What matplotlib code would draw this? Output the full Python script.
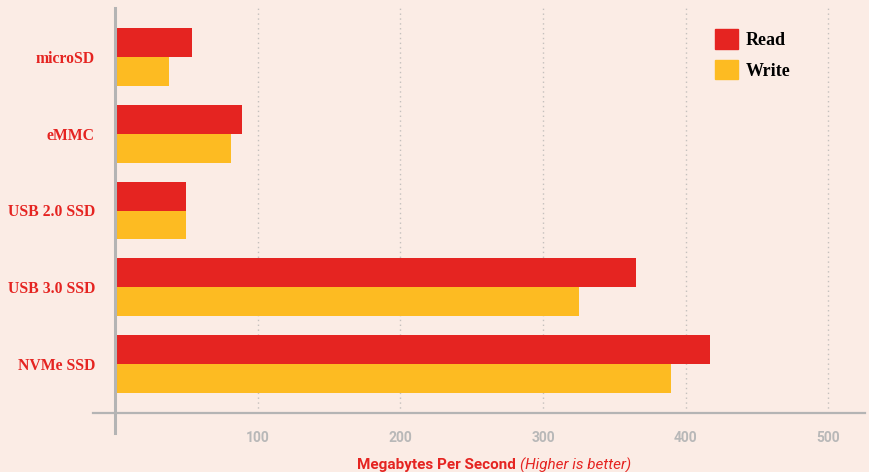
import numpy as np
import matplotlib.pyplot as plt
from matplotlib.patches import Patch

# data
devices = ['microSD', 'eMMC', 'USB 2.0 SSD', 'USB 3.0 SSD', 'NVMe SSD']
read_speed = [54, 89, 50, 365, 417]
write_speed = [38, 81, 50, 325, 390]
xticks = [100, 200, 300, 400, 500]

bg = '#fbece5'
red = '#e52421'
yellow = '#fdbb22'
grey = '#b4b4b4'

fig = plt.figure(figsize=(8.7, 4.72), dpi=100, facecolor=bg)
W, H = 870, 472
ax = fig.add_axes([115 / W, 1 - 413 / H, 750 / W, 405 / H])
ax.set_facecolor(bg)

y = np.arange(len(devices))
h = 0.375
ax.barh(y - h / 2, read_speed, height=h, color=red, label='Read', zorder=3)
ax.barh(y + h / 2, write_speed, height=h, color=yellow, label='Write', zorder=3)

ax.set_xlim(0, 525.7)
ax.set_ylim(4.64, -0.64)

# grid
for t in xticks:
    ax.axvline(t, color='#c4c0bd', lw=1, ls=(0, (1, 2.5)), zorder=1)

for s in ax.spines.values():
    s.set_visible(False)
# axis lines
ax.axhline(4.64, xmin=-22 / 750, xmax=1, color=grey, lw=1.6, clip_on=False, zorder=4)
ax.axvline(0, ymin=-20 / 405, ymax=1, color=grey, lw=2.2, clip_on=False, zorder=4)

ax.set_xticks(xticks)
ax.set_xticklabels([str(t) for t in xticks], color='#b8b8b8',
                   fontsize=10, fontweight='bold', family='Roboto')
ax.tick_params(axis='x', length=0, pad=13)
ax.set_yticks(y)
ax.set_yticklabels(devices, color=red, fontsize=11.3, fontweight='bold',
                   family='Liberation Serif')
ax.tick_params(axis='y', length=0, pad=14.4)

# x label, two styles
fig.text(516 / W, 1 - 465 / H, 'Megabytes Per Second', ha='right', va='center',
         color=red, fontsize=11, fontweight='bold', family='Roboto')
fig.text(520 / W, 1 - 465 / H, '(Higher is better)', ha='left', va='center',
         color=red, fontsize=11, style='italic', family='Roboto')

handles = [Patch(color=red, label='Read'), Patch(color=yellow, label='Write')]
leg = ax.legend(handles=handles, loc='upper left', bbox_to_anchor=(600 / 750, 1 - 21 / 405),
                frameon=False, borderpad=0, borderaxespad=0,
                handlelength=1.3, handleheight=1.3, handletextpad=0.4,
                labelspacing=0.6,
                prop={'family': 'Liberation Serif', 'weight': 'bold', 'size': 13})

fig.savefig('out.png', dpi=100, facecolor=bg)
